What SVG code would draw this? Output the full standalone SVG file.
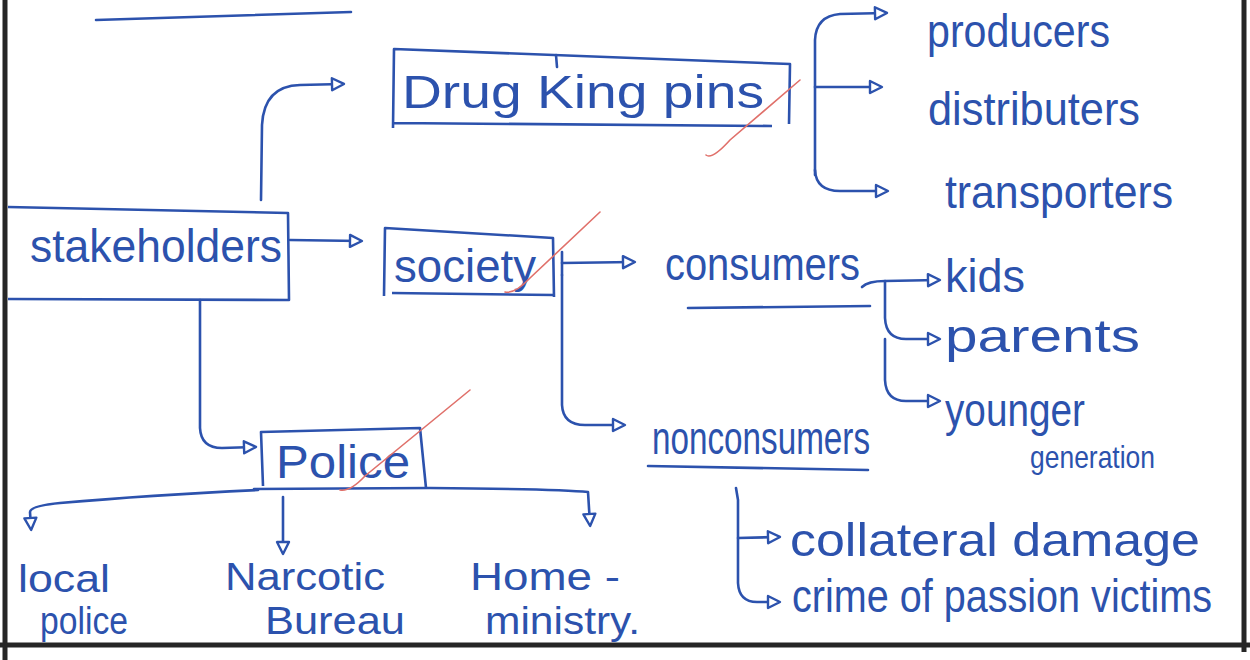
<svg xmlns="http://www.w3.org/2000/svg" width="1250" height="660" viewBox="0 0 1250 660">
  <style>
    .ink { fill: none; stroke: #2c52ad; stroke-width: 2.6; stroke-linecap: round; stroke-linejoin: round; }
    .box { fill: none; stroke: #2c52ad; stroke-width: 2.6; stroke-linejoin: round; }
    .lbl { font-family: "Liberation Sans", "DejaVu Sans", sans-serif; fill: #2c52ad; font-size: 46px; }
    .two { font-size: 38px; }
    .sm  { font-size: 32px; }
    .tick { fill: none; stroke: #e0706a; stroke-width: 1.6; stroke-linecap: round; }
    .frame { fill: none; stroke: #262626; stroke-width: 5; }
  </style>
  <defs>
    <marker id="head" viewBox="0 0 12 12" refX="9" refY="6" markerWidth="16" markerHeight="16" markerUnits="userSpaceOnUse" orient="auto">
      <path d="M1.5,1.5 L10.5,6 L1.5,10.5 Z" fill="#ffffff" stroke="#2c52ad" stroke-width="1.8" stroke-linejoin="round"/>
    </marker>
  </defs>

  <rect width="1250" height="660" fill="#ffffff"/>

  <!-- page frame -->
  <g id="frame">
    <line class="frame" x1="5" y1="0" x2="5" y2="660"/>
    <line class="frame" x1="1244" y1="0" x2="1244" y2="652"/>
    <line class="frame" x1="0" y1="645" x2="1250" y2="645"/>
  </g>

  <!-- heading underline -->
  <path class="ink" d="M96,20 Q220,16 351,12"/>

  <!-- connectors -->
  <g id="connectors">
    <!-- stakeholders to drug king pins -->
    <path class="ink" d="M261,200 L262,125 Q264,86 300,85 L342,84" marker-end="url(#head)"/>
    <!-- stakeholders to society -->
    <path class="ink" d="M290,240 L360,241" marker-end="url(#head)"/>
    <!-- stakeholders to police -->
    <path class="ink" d="M200,300 L200,428 Q201,448 222,448 L254,447" marker-end="url(#head)"/>

    <!-- drug king pins branches -->
    <path class="ink" d="M815,175 L815,40 Q816,16 840,14 L885,13" marker-end="url(#head)"/>
    <path class="ink" d="M815,87 L880,87" marker-end="url(#head)"/>
    <path class="ink" d="M815,170 Q816,191 840,191 L886,191" marker-end="url(#head)"/>

    <!-- society branches -->
    <path class="ink" d="M562,252 L562,275"/>
    <path class="ink" d="M562,263 L633,262" marker-end="url(#head)"/>
    <path class="ink" d="M562,275 L562,405 Q563,425 585,425 L623,425" marker-end="url(#head)"/>

    <!-- consumers branches -->
    <path class="ink" d="M862,287 Q868,281 885,281 L938,280" marker-end="url(#head)"/>
    <path class="ink" d="M885,281 L885,318 Q886,339 906,339 L938,339" marker-end="url(#head)"/>
    <path class="ink" d="M885,339 L885,380 Q886,401 906,401 L938,401" marker-end="url(#head)"/>

    <!-- nonconsumers branches -->
    <path class="ink" d="M736,488 L738,500 L738,583 Q739,602 757,602 L778,602" marker-end="url(#head)"/>
    <path class="ink" d="M738,538 L778,537" marker-end="url(#head)"/>

    <!-- police branches -->
    <path class="ink" d="M258,490 Q150,495 60,503 Q30,506 30,512 L31,528" marker-end="url(#head)"/>
    <path class="ink" d="M254,489 L430,488 Q560,489 588,492 L590,524" marker-end="url(#head)"/>
    <path class="ink" d="M283,497 L283,552" marker-end="url(#head)"/>
  </g>

  <!-- nodes -->
  <g id="stakeholders">
    <path class="box" d="M8,207 L288,213 L289,300 L8,299"/>
    <text class="lbl" x="30" y="262" textLength="252" lengthAdjust="spacingAndGlyphs">stakeholders</text>
  </g>

  <g id="drug-king-pins">
    <path class="box" d="M393,128 L394,49 L790,64 L789,124 M393,123 L772,126"/>
    <path class="ink" d="M556,55 L557,67"/>
    <text class="lbl" x="402" y="108" textLength="362" lengthAdjust="spacingAndGlyphs">Drug  King pins</text>
  </g>

  <g id="society">
    <path class="box" d="M384,296 L385,228 L553,238 L554,297 M392,293 L554,295"/>
    <text class="lbl" x="394" y="282" textLength="142" lengthAdjust="spacingAndGlyphs">society</text>
  </g>

  <g id="police">
    <path class="box" d="M263,486 L261,432 L420,428 L426,488"/>
    <text class="lbl" x="276" y="478" textLength="134" lengthAdjust="spacingAndGlyphs">Police</text>
  </g>

  <g id="producers">
    <text class="lbl" x="927" y="47" textLength="183" lengthAdjust="spacingAndGlyphs">producers</text>
  </g>
  <g id="distributers">
    <text class="lbl" x="928" y="125" textLength="212" lengthAdjust="spacingAndGlyphs">distributers</text>
  </g>
  <g id="transporters">
    <text class="lbl" x="945" y="208" textLength="228" lengthAdjust="spacingAndGlyphs">transporters</text>
  </g>

  <g id="consumers">
    <text class="lbl" x="665" y="280" textLength="195" lengthAdjust="spacingAndGlyphs">consumers</text>
    <path class="ink" d="M688,308 L870,306"/>
  </g>
  <g id="kids">
    <text class="lbl" x="945" y="292" textLength="80" lengthAdjust="spacingAndGlyphs">kids</text>
  </g>
  <g id="parents">
    <text class="lbl" x="945" y="352" textLength="195" lengthAdjust="spacingAndGlyphs">parents</text>
  </g>
  <g id="younger-generation">
    <text class="lbl" x="945" y="426" textLength="140" lengthAdjust="spacingAndGlyphs">younger</text>
    <text class="lbl sm" x="1030" y="468" textLength="125" lengthAdjust="spacingAndGlyphs">generation</text>
  </g>

  <g id="nonconsumers">
    <text class="lbl" x="652" y="454" textLength="218" lengthAdjust="spacingAndGlyphs">nonconsumers</text>
    <path class="ink" d="M648,466 L868,470"/>
  </g>
  <g id="collateral-damage">
    <text class="lbl" x="790" y="556" textLength="410" lengthAdjust="spacingAndGlyphs">collateral damage</text>
  </g>
  <g id="crime-of-passion-victims">
    <text class="lbl" x="792" y="612" font-size="38" textLength="420" lengthAdjust="spacingAndGlyphs">crime of passion victims</text>
  </g>

  <g id="local-police">
    <text class="lbl two" x="18" y="592" textLength="92" lengthAdjust="spacingAndGlyphs">local</text>
    <text class="lbl two" x="40" y="634" textLength="88" lengthAdjust="spacingAndGlyphs">police</text>
  </g>
  <g id="narcotic-bureau">
    <text class="lbl two" x="225" y="590" textLength="160" lengthAdjust="spacingAndGlyphs">Narcotic</text>
    <text class="lbl two" x="265" y="634" textLength="140" lengthAdjust="spacingAndGlyphs">Bureau</text>
  </g>
  <g id="home-ministry">
    <text class="lbl two" x="470" y="590" textLength="150" lengthAdjust="spacingAndGlyphs">Home -</text>
    <text class="lbl two" x="485" y="634" textLength="155" lengthAdjust="spacingAndGlyphs">ministry.</text>
  </g>

  <!-- red check marks -->
  <g id="checks">
    <path class="tick" d="M706,155 Q712,160 730,140 L800,80"/>
    <path class="tick" d="M505,292 Q515,294 530,278 L600,212"/>
    <path class="tick" d="M340,490 Q350,492 365,476 L470,390"/>
  </g>
</svg>
